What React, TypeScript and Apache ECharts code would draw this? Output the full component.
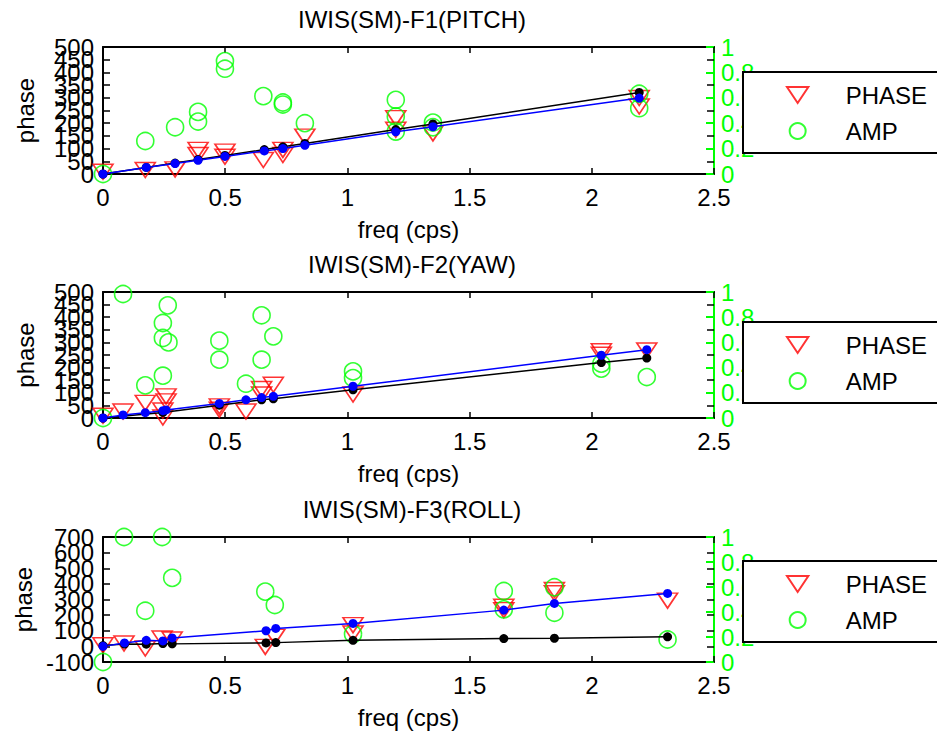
import React, { useEffect, useRef } from "react";
import * as echarts from "echarts";

// ---------- data ----------
const TITLES = ["IWIS(SM)-F1(PITCH)", "IWIS(SM)-F2(YAW)", "IWIS(SM)-F3(ROLL)"];
const X_LABEL = "freq (cps)";
const Y_LABEL = "phase";
const LEGEND_NAMES = ["PHASE", "AMP"];

// Panel 1 (PITCH)
const p1PhaseX = [0, 0.173, 0.295, 0.389, 0.389, 0.499, 0.499, 0.656, 0.736, 0.736, 0.826, 1.198, 1.198, 1.35, 2.194, 2.194];
const p1Phase = [9, 16, 18, 95, 75, 88, 68, 55, 95, 75, 147, 220, 174, 160, 299, 266];
const p1AmpX = [0, 0.173, 0.295, 0.389, 0.389, 0.499, 0.499, 0.656, 0.736, 0.736, 0.826, 1.198, 1.198, 1.198, 1.35, 1.35, 2.194, 2.194];
const p1Amp = [0, 0.26, 0.368, 0.489, 0.413, 0.889, 0.829, 0.613, 0.563, 0.547, 0.4, 0.584, 0.453, 0.334, 0.405, 0.368, 0.632, 0.518];
const p1FitX = [0, 0.177, 0.295, 0.389, 0.499, 0.66, 0.736, 0.826, 1.198, 1.35, 2.194];
const p1Blue = [0, 26, 41, 54, 69, 91, 100, 113, 166, 186, 299];
const p1Black = [0, 26, 43, 57, 73, 96, 107, 120, 175, 197, 321];

// Panel 2 (YAW)
const p2PhaseX = [0, 0.082, 0.173, 0.245, 0.245, 0.258, 0.258, 0.476, 0.476, 0.585, 0.649, 0.649, 0.697, 1.023, 2.039, 2.039, 2.225];
const p2Phase = [9, 26, 60, 30, 2, 86, 66, 46, 33, 26, 93, 115, 132, 93, 265, 251, 268];
const p2AmpX = [0, 0.082, 0.173, 0.245, 0.245, 0.245, 0.265, 0.268, 0.476, 0.476, 0.585, 0.649, 0.649, 0.697, 1.023, 1.023, 2.039, 2.039, 2.225];
const p2Amp = [0, 0.984, 0.259, 0.336, 0.754, 0.635, 0.894, 0.6, 0.614, 0.463, 0.272, 0.815, 0.463, 0.648, 0.37, 0.317, 0.431, 0.392, 0.325];
const p2BlueX = [0, 0.082, 0.173, 0.245, 0.258, 0.476, 0.585, 0.649, 0.697, 1.023, 2.039, 2.225];
const p2Blue = [0, 12, 21, 29, 32, 58, 72, 81, 86, 126, 249, 271];
const p2BlackX = [0, 0.245, 0.476, 0.649, 0.697, 1.023, 2.039, 2.225];
const p2Black = [0, 22, 51, 72, 76, 112, 220, 238];

// Panel 3 (ROLL)
const p3PhaseX = [0, 0.086, 0.173, 0.242, 0.283, 0.664, 0.703, 1.023, 1.023, 1.64, 1.64, 1.847, 1.847, 2.31];
const p3Phase = [7, 18, -14, 50, 44, -3, 61, 136, 82, 232, 254, 361, 340, 293];
const p3AmpX = [0, 0.086, 0.242, 0.173, 0.283, 0.664, 0.703, 1.023, 1.64, 1.64, 1.847, 1.847, 2.31];
const p3Amp = [0, 1.0, 1.0, 0.41, 0.673, 0.563, 0.456, 0.223, 0.568, 0.421, 0.598, 0.394, 0.18];
const p3FitX = [0, 0.088, 0.177, 0.245, 0.283, 0.667, 0.707, 1.023, 1.64, 1.847, 2.31];
const p3Blue = [0, 22, 39, 35, 54, 100, 115, 147, 232, 275, 339];
const p3Black = [5, 15, 14, 18, 16, 22, 24, 39, 50, 52, 61];

// tick labels of the phase axes
const P1_TICKS = [0, 50, 100, 150, 200, 250, 300, 350, 400, 450, 500];
const P2_TICKS = [0, 50, 100, 150, 200, 250, 300, 350, 400, 450, 500];
const P3_TICKS = [-100, 0, 100, 200, 300, 400, 500, 600, 700];

const PHASE_RANGES = [
  { min: 0, max: 500, interval: 50 },
  { min: 0, max: 500, interval: 50 },
  { min: -100, max: 700, interval: 100 },
];
const AMP_RANGE = { min: 0, max: 1, interval: 0.2 };
const X_RANGE = { min: 0, max: 2.5, interval: 0.5 };

// ---------- layout / style ----------
const FONT = "'Liberation Sans', Arial, sans-serif";
const FS = 24;
const GRIDS = [
  { left: 103, top: 47, width: 611, height: 127 },
  { left: 103, top: 292, width: 611, height: 126 },
  { left: 103, top: 537, width: 611, height: 125 },
];
const TITLE_TOPS = [2, 247, 492];
const LEGEND_BOX_TOPS = [71, 321, 560];
const LEGEND_BOX_H = 81;
const DOWN_TRI = "path://M0,0L20,0L10,15Z";
const LABEL_GROUPS = 3;

const zip = (xs: number[], ys: number[]) => xs.map((x, i) => [x, ys[i]]);

export default function App() {
  const ref = useRef<HTMLDivElement>(null);
  useEffect(() => {
    if (!ref.current) return;
    const chart = echarts.init(ref.current, null, { renderer: "svg" });

    const panels = [
      { ticks: P1_TICKS, phaseX: p1PhaseX, phase: p1Phase, ampX: p1AmpX, amp: p1Amp, blueX: p1FitX, blue: p1Blue, blackX: p1FitX, black: p1Black },
      { ticks: P2_TICKS, phaseX: p2PhaseX, phase: p2Phase, ampX: p2AmpX, amp: p2Amp, blueX: p2BlueX, blue: p2Blue, blackX: p2BlackX, black: p2Black },
      { ticks: P3_TICKS, phaseX: p3PhaseX, phase: p3Phase, ampX: p3AmpX, amp: p3Amp, blueX: p3FitX, blue: p3Blue, blackX: p3FitX, black: p3Black },
    ];

    const xAxis: any[] = [];
    const yAxis: any[] = [];
    const series: any[] = [];
    const title: any[] = [];
    const legend: any[] = [];
    const graphic: any[] = [];
    const black = "#000";

    GRIDS.forEach((g, i) => {
      const p = panels[i];
      xAxis.push({
        type: "value", gridIndex: i, position: "bottom", ...X_RANGE,
        axisLine: { show: true, onZero: false, lineStyle: { color: black, width: 2 } },
        axisTick: { show: true, inside: true, length: 6, lineStyle: { color: black, width: 1.5 } },
        axisLabel: { color: black, fontSize: FS, fontFamily: FONT, margin: 11, showMinLabel: true, showMaxLabel: true },
        splitLine: { show: false },
        name: X_LABEL, nameLocation: "middle", nameGap: 43,
        nameTextStyle: { color: black, fontSize: FS, fontFamily: FONT },
      });
      xAxis.push({
        type: "value", gridIndex: i, position: "top", ...X_RANGE,
        axisLine: { show: true, onZero: false, lineStyle: { color: black, width: 2 } },
        axisTick: { show: true, inside: true, length: 6, lineStyle: { color: black, width: 1.5 } },
        axisLabel: { show: false },
        splitLine: { show: false },
      });
      const pr = PHASE_RANGES[i];
      const group = (k: number) => p.ticks.filter((_, j) => j % LABEL_GROUPS === k);
      // main left axis (index i*5)
      yAxis.push({
        type: "value", gridIndex: i, position: "left", ...pr,
        axisLine: { show: true, onZero: false, lineStyle: { color: black, width: 2 } },
        axisTick: { show: true, inside: true, length: 7, lineStyle: { color: black, width: 1.5 } },
        axisLabel: { color: black, fontSize: FS, fontFamily: FONT, margin: 9, customValues: group(0), hideOverlap: false },
        splitLine: { show: false },
        name: Y_LABEL, nameLocation: "middle", nameGap: 66, nameRotate: 90,
        nameTextStyle: { color: black, fontSize: FS, fontFamily: FONT },
      });
      // right mirror (i*5+1)
      yAxis.push({
        type: "value", gridIndex: i, position: "right", ...pr,
        axisLine: { show: true, onZero: false, lineStyle: { color: black, width: 2 } },
        axisTick: { show: true, inside: true, length: 7, lineStyle: { color: black, width: 1.5 } },
        axisLabel: { show: false },
        splitLine: { show: false },
      });
      // right amp (i*5+2)
      yAxis.push({
        type: "value", gridIndex: i, position: "right", ...AMP_RANGE,
        axisLine: { show: true, onZero: false, lineStyle: { color: "#00ff00", width: 2 } },
        axisTick: { show: true, inside: true, length: 8, lineStyle: { color: "#00ff00", width: 2 } },
        axisLabel: {
          color: "#00ff00", fontSize: FS, fontFamily: FONT, margin: 7,
          showMinLabel: true, showMaxLabel: true,
          formatter: (v: number) => String(+v.toFixed(1)),
        },
        splitLine: { show: false },
      });
      // extra left label axes (i*5+3, i*5+4)
      for (let k = 1; k < LABEL_GROUPS; k++) {
        yAxis.push({
          type: "value", gridIndex: i, position: "left", ...pr,
          axisLine: { show: false, onZero: false },
          axisTick: { show: false },
          axisLabel: { color: black, fontSize: FS, fontFamily: FONT, margin: 9, customValues: group(k), hideOverlap: false },
          splitLine: { show: false },
        });
      }

      title.push({
        text: TITLES[i], left: 407, top: TITLE_TOPS[i], textAlign: "center",
        textStyle: { color: black, fontSize: FS, fontWeight: "normal", fontFamily: FONT },
      });

      graphic.push({
        type: "rect", left: 742, top: LEGEND_BOX_TOPS[i], z: 50, zlevel: 0,
        shape: { width: 260, height: LEGEND_BOX_H },
        style: { fill: "#fff", stroke: "#000", lineWidth: 2 },
      });

      legend.push({
        data: LEGEND_NAMES, orient: "vertical", left: 786, top: LEGEND_BOX_TOPS[i] + 12,
        itemWidth: 86, itemHeight: 16, itemGap: 12, padding: 0,
        textStyle: { color: black, fontSize: FS, fontFamily: FONT, lineHeight: 24 },
        selectedMode: false, z: 60,
      });

      const xi = i * 2;
      const yi = i * 5;
      series.push({
        type: "line", name: "fit-black-" + i, xAxisIndex: xi, yAxisIndex: yi,
        data: zip(p.blackX, p.black), symbol: "circle", symbolSize: 9, showSymbol: true,
        lineStyle: { color: "#000", width: 1.5 }, itemStyle: { color: "#000" },
      });
      series.push({
        type: "line", name: "fit-blue-" + i, xAxisIndex: xi, yAxisIndex: yi,
        data: zip(p.blueX, p.blue), symbol: "circle", symbolSize: 9, showSymbol: true,
        lineStyle: { color: "#0000ff", width: 1.5 }, itemStyle: { color: "#0000ff" },
      });
      series.push({
        type: "scatter", name: "PHASE", xAxisIndex: xi, yAxisIndex: yi,
        data: zip(p.phaseX, p.phase), symbol: DOWN_TRI, symbolSize: [20, 15],
        itemStyle: { color: "transparent", borderColor: "#ff0000", borderWidth: 1.6 },
      });
      series.push({
        type: "scatter", name: "AMP", xAxisIndex: xi, yAxisIndex: yi + 2,
        data: zip(p.ampX, p.amp), symbol: "circle", symbolSize: 17,
        itemStyle: { color: "transparent", borderColor: "#00ff00", borderWidth: 1.6 },
      });
    });

    chart.setOption({
      animation: false,
      backgroundColor: "#fff",
      textStyle: { fontFamily: FONT },
      title, legend, graphic,
      grid: GRIDS.map((g) => ({ ...g, containLabel: false })),
      xAxis, yAxis, series,
    });
    return () => chart.dispose();
  }, []);
  return <div ref={ref} style={{ position: "fixed", left: 0, top: 0, width: 937, height: 733 }} />;
}
